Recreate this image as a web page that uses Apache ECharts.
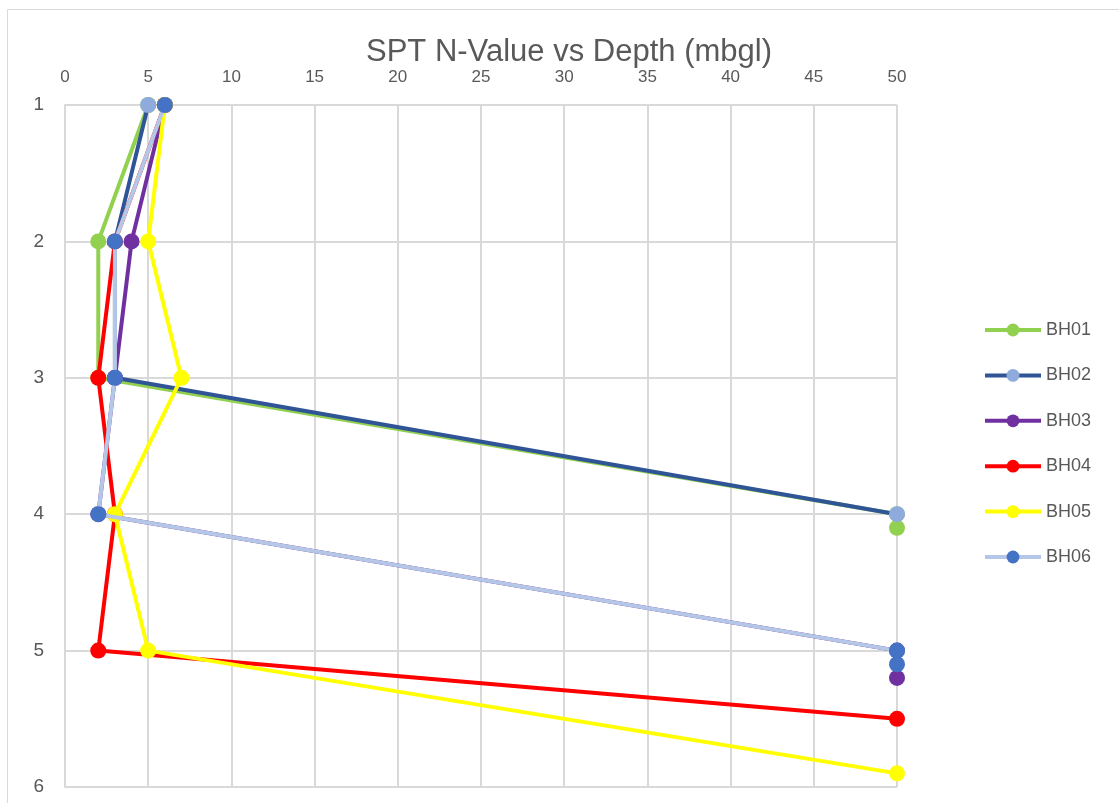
<!DOCTYPE html>
<html>
<head>
<meta charset="utf-8">
<script src="https://cdn.jsdelivr.net/npm/echarts@6/dist/echarts.min.js"></script>
<style>
html,body{margin:0;padding:0;background:#fff;}
#c{width:1119px;height:803px;}
</style>
</head>
<body>
<div id="c"></div>
<script>
const seriesNames = ['BH01','BH02','BH03','BH04','BH05','BH06'];
const bh01N = [5, 2, 2, 50, 50];
const bh01Depth = [1, 2, 3, 4, 4.1];
const bh02N = [5, 3, 3, 50];
const bh02Depth = [1, 2, 3, 4];
const bh03N = [6, 4, 3, 2, 50, 50];
const bh03Depth = [1, 2, 3, 4, 5, 5.2];
const bh04N = [6, 3, 2, 3, 2, 50];
const bh04Depth = [1, 2, 3, 4, 5, 5.5];
const bh05N = [6, 5, 7, 3, 5, 50];
const bh05Depth = [1, 2, 3, 4, 5, 5.9];
const bh06N = [6, 3, 3, 2, 50, 50];
const bh06Depth = [1, 2, 3, 4, 5, 5.1];
const xTicks = [0,5,10,15,20,25,30,35,40,45,50];
const yTicks = [1,2,3,4,5,6];

const lineColors = ['#92D050','#2F5597','#7030A0','#FF0000','#FFFF00','#B4C7E7'];
const markerColors = ['#92D050','#8FAADC','#7030A0','#FF0000','#FFFF00','#4472C4'];
const allN = [bh01N,bh02N,bh03N,bh04N,bh05N,bh06N];
const allD = [bh01Depth,bh02Depth,bh03Depth,bh04Depth,bh05Depth,bh06Depth];

const FONT = '"Liberation Sans", "DejaVu Sans", sans-serif';
const chart = echarts.init(document.getElementById('c'));
chart.setOption({
  backgroundColor: '#fff',
  animation: false,
  graphic: [{
    type: 'rect', left: 5, top: 7,
    shape: {width: 1200, height: 900},
    style: {fill: 'none', stroke: '#D9D9D9', lineWidth: 1}
  }],
  title: {
    text: 'SPT N-Value vs Depth (mbgl)',
    left: 564, top: 32, textAlign: 'center',
    textStyle: {fontFamily: FONT, fontSize: 31, fontWeight: 'normal', color: '#595959'}
  },
  legend: {
    orient: 'vertical', left: 978, top: 316,
    itemWidth: 56, itemHeight: 16, itemGap: 27.4,
    lineStyle: {width: 4},
    textStyle: {fontFamily: FONT, fontSize: 18, color: '#595959'},
    data: seriesNames
  },
  grid: {left: 65, right: 222, top: 105, bottom: 16, containLabel: false},
  xAxis: {
    type: 'value', position: 'top', min: 0, max: 50, interval: 5,
    axisLine: {show: false}, axisTick: {show: false},
    axisLabel: {fontFamily: FONT, fontSize: 17, color: '#595959', margin: 19,
      formatter: v => xTicks.includes(v) ? String(v) : ''},
    splitLine: {show: true, lineStyle: {color: '#D9D9D9', width: 2}}
  },
  yAxis: {
    type: 'value', inverse: true, min: 1, max: 6, interval: 1,
    axisLine: {show: true, lineStyle: {color: '#D9D9D9', width: 2}},
    axisTick: {show: false},
    axisLabel: {fontFamily: FONT, fontSize: 19, color: '#595959', margin: 21,
      formatter: v => yTicks.includes(v) ? String(v) : ''},
    splitLine: {show: true, lineStyle: {color: '#D9D9D9', width: 2}}
  },
  series: seriesNames.map((name, i) => ({
    name, type: 'line',
    data: allN[i].map((n, j) => [n, allD[i][j]]),
    symbol: 'circle', symbolSize: 16,
    lineStyle: {color: lineColors[i], width: 4},
    itemStyle: {color: markerColors[i]},
    z: 2 + i
  }))
});
</script>
</body>
</html>
